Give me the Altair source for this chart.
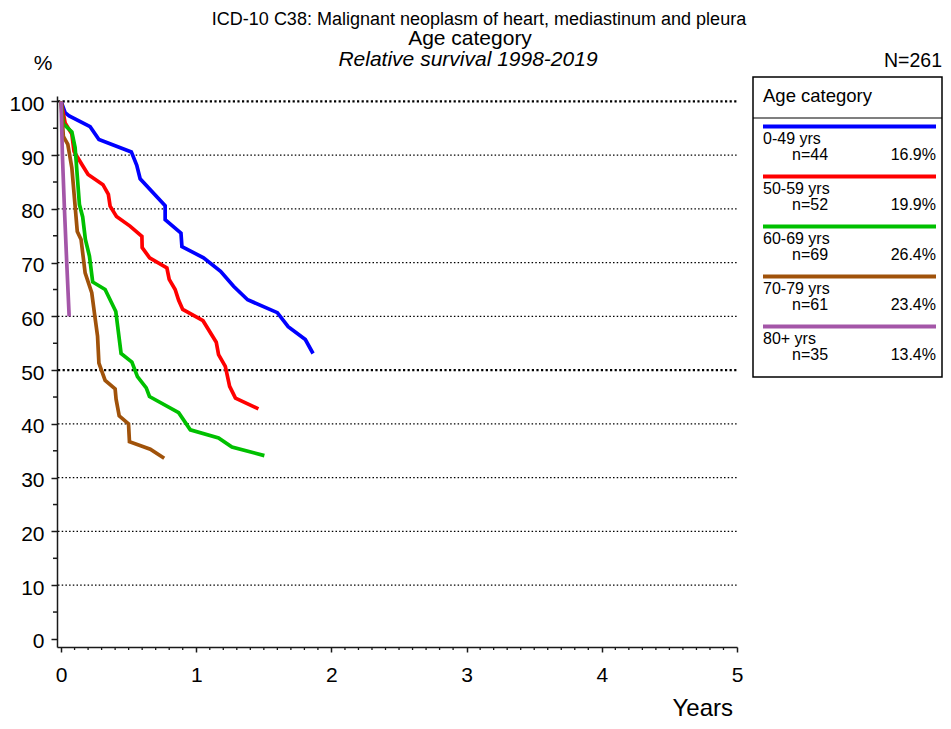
import altair as alt
import pandas as pd

# ---------------- data ----------------
groups = ["0-49 yrs", "50-59 yrs", "60-69 yrs", "70-79 yrs", "80+ yrs"]
colors = ["#0000FF", "#FF0000", "#00C000", "#A0520A", "#A456A8"]
n_counts = ["n=44", "n=52", "n=69", "n=61", "n=35"]
shares = ["16.9%", "19.9%", "26.4%", "23.4%", "13.4%"]

t_049 = [0, 0.03, 0.06, 0.215, 0.28, 0.52, 0.56, 0.585, 0.77, 0.77, 0.887, 0.894,
         1.054, 1.18, 1.276, 1.38, 1.6, 1.68, 1.807, 1.864]
s_049 = [100, 97.9, 97.3, 95.3, 92.9, 90.6, 88.1, 85.6, 80.6, 78.0, 75.5, 73.0,
         70.9, 68.4, 65.6, 63.1, 60.7, 58.1, 55.7, 53.1]

t_5059 = [0, 0.03, 0.08, 0.096, 0.153, 0.2, 0.31, 0.35, 0.363, 0.41, 0.51, 0.598, 0.6,
          0.655, 0.783, 0.8, 0.844, 0.87, 0.9, 1.05, 1.148, 1.165, 1.215, 1.247, 1.29, 1.46]
s_5059 = [100, 96.0, 93.9, 90.7, 88.3, 86.4, 84.5, 82.7, 80.5, 78.6, 76.8, 74.9, 72.8,
          70.9, 69.0, 66.9, 65.0, 63.0, 61.3, 59.2, 55.2, 52.9, 50.7, 47.0, 44.8, 42.8]

t_6069 = [0, 0.017, 0.08, 0.104, 0.136, 0.16, 0.18, 0.21, 0.234, 0.326, 0.405, 0.444,
          0.524, 0.565, 0.63, 0.654, 0.87, 0.956, 1.165, 1.264, 1.504]
s_6069 = [100, 95.8, 94.3, 91.4, 80.8, 78.5, 74.3, 71.2, 66.4, 65.0, 60.9, 53.1,
          51.5, 48.8, 46.7, 45.1, 42.1, 38.9, 37.4, 35.7, 34.1]

t_7079 = [0, 0.017, 0.05, 0.08, 0.12, 0.148, 0.178, 0.227, 0.247, 0.27, 0.28, 0.326,
          0.4, 0.407, 0.43, 0.499, 0.506, 0.66, 0.763]
s_7079 = [100, 93.5, 92.0, 87.6, 75.8, 74.3, 68.1, 64.4, 60.6, 56.3, 51.3, 48.1,
          46.5, 44.6, 41.5, 40.0, 36.7, 35.3, 33.6]

t_80 = [0, 0.01, 0.025, 0.042, 0.06]
s_80 = [100, 90, 80, 70, 60]

y_major = [0, 10, 20, 30, 40, 50, 60, 70, 80, 90, 100]
y_minor = [5, 15, 25, 35, 45, 55, 65, 75, 85, 95]
x_major = [0, 1, 2, 3, 4, 5]
x_minor = [round(k / 10, 1) for k in range(1, 50) if k % 10 != 0]
grid_normal = [10, 20, 30, 40, 60, 70, 80, 90]
grid_bold = [50, 100]

rows = []
for g, ts, ss in zip(groups, [t_049, t_5059, t_6069, t_7079, t_80],
                     [s_049, s_5059, s_6069, s_7079, s_80]):
    for i, (t, s) in enumerate(zip(ts, ss)):
        rows.append({"group": g, "t": t, "s": s, "i": i})
df = pd.DataFrame(rows)

# ---------------- layout ----------------
W, H = 680, 551
FONT = "Liberation Sans"
INK = "#1a1a1a"

xscale = alt.Scale(domain=[-0.03, 5], nice=False, zero=False)
yscale = alt.Scale(domain=[-1.5, 101], nice=False, zero=False)

xaxis = alt.Axis(values=x_major, title="", grid=False, tickSize=5, tickWidth=1.5,
                 tickColor=INK, domainColor=INK, domainWidth=1.5,
                 labelFontSize=21, labelFont=FONT, labelColor="black",
                 labelPadding=12, labelFlush=False, labelOverlap=False)
yaxis = alt.Axis(values=y_major, title="", grid=False, tickSize=6, tickWidth=1.5,
                 tickColor=INK, domainColor=INK, domainWidth=1.5,
                 labelFontSize=21, labelFont=FONT, labelColor="black",
                 labelPadding=7, labelOffset=3, labelFlush=False, labelOverlap=False)

one = pd.DataFrame({"k": [0]})


def txt(text, x, y, size, align="left", style="normal"):
    return alt.Chart(pd.DataFrame({"txt": [text]})).mark_text(
        align=align, baseline="alphabetic", fontSize=size, font=FONT,
        fontStyle=style, color="black"
    ).encode(text="txt:N", x=alt.value(x), y=alt.value(y))


grid1 = alt.Chart(pd.DataFrame({"v": grid_normal})).mark_rule(
    color="black", strokeWidth=1.3, strokeDash=[1.5, 2.2]
).encode(y=alt.Y("v:Q", scale=yscale, axis=yaxis), x=alt.value(1), x2=alt.value(W))

grid2 = alt.Chart(pd.DataFrame({"v": grid_bold})).mark_rule(
    color="black", strokeWidth=2.4, strokeDash=[2.2, 2.4]
).encode(y=alt.Y("v:Q", scale=yscale, axis=yaxis), x=alt.value(1), x2=alt.value(W))

yminor = alt.Chart(pd.DataFrame({"v": y_minor})).mark_rule(
    color=INK, strokeWidth=1.5
).encode(y=alt.Y("v:Q", scale=yscale, axis=yaxis), x=alt.value(-4), x2=alt.value(0))

xminor = alt.Chart(pd.DataFrame({"v": x_minor})).mark_rule(
    color=INK, strokeWidth=1.3
).encode(x=alt.X("v:Q", scale=xscale, axis=xaxis), y=alt.value(H), y2=alt.value(H + 3))

lines = alt.Chart(df).mark_line(strokeWidth=3.7, strokeJoin="miter").encode(
    x=alt.X("t:Q", scale=xscale, axis=xaxis),
    y=alt.Y("s:Q", scale=yscale, axis=yaxis),
    color=alt.Color("group:N", scale=alt.Scale(domain=groups, range=colors), legend=None),
    order="i:Q",
)

layers = [grid1, grid2, yminor, xminor, lines]

# titles and annotations
layers += [
    txt("ICD-10 C38: Malignant neoplasm of heart, mediastinum and pleura", 422, -71, 18, "center"),
    txt("Age category", 413, -51, 21, "center"),
    txt("Relative survival 1998-2019", 411, -30, 21, "center", "italic"),
    txt("%", -14, -26, 21, "center"),
    txt("N=261", 885, -29, 19.5, "right"),
    txt("Years", 676, 620, 24, "right"),
]

# legend box
LX0, LX1 = 696, 885
layers.append(alt.Chart(one).mark_rect(fill="white", stroke="black", strokeWidth=1.5).encode(
    x=alt.value(LX0), x2=alt.value(LX1), y=alt.value(-19), y2=alt.value(281)))
layers.append(alt.Chart(one).mark_rule(color="black", strokeWidth=1.2).encode(
    x=alt.value(LX0), x2=alt.value(LX1), y=alt.value(22)))
layers.append(txt("Age category", 706, 6, 18.5))
for i, (g, c, n, p) in enumerate(zip(groups, colors, n_counts, shares)):
    layers.append(alt.Chart(one).mark_rule(color=c, strokeWidth=4).encode(
        x=alt.value(706), x2=alt.value(879), y=alt.value(30.5 + 50 * i)))
    layers.append(txt(g, 706, 48 + 50 * i, 16))
    layers.append(txt(n, 735, 64 + 50 * i, 16))
    layers.append(txt(p, 879, 64 + 50 * i, 16, "right"))

chart = alt.layer(*layers).properties(
    width=W, height=H,
    padding={"left": 49, "top": 88, "right": 206, "bottom": 74},
    autosize=alt.AutoSizeParams(type="none"),
    background="white",
).configure_view(stroke=None)

chart.save("out.html", embed_options={"renderer": "svg", "actions": False})
